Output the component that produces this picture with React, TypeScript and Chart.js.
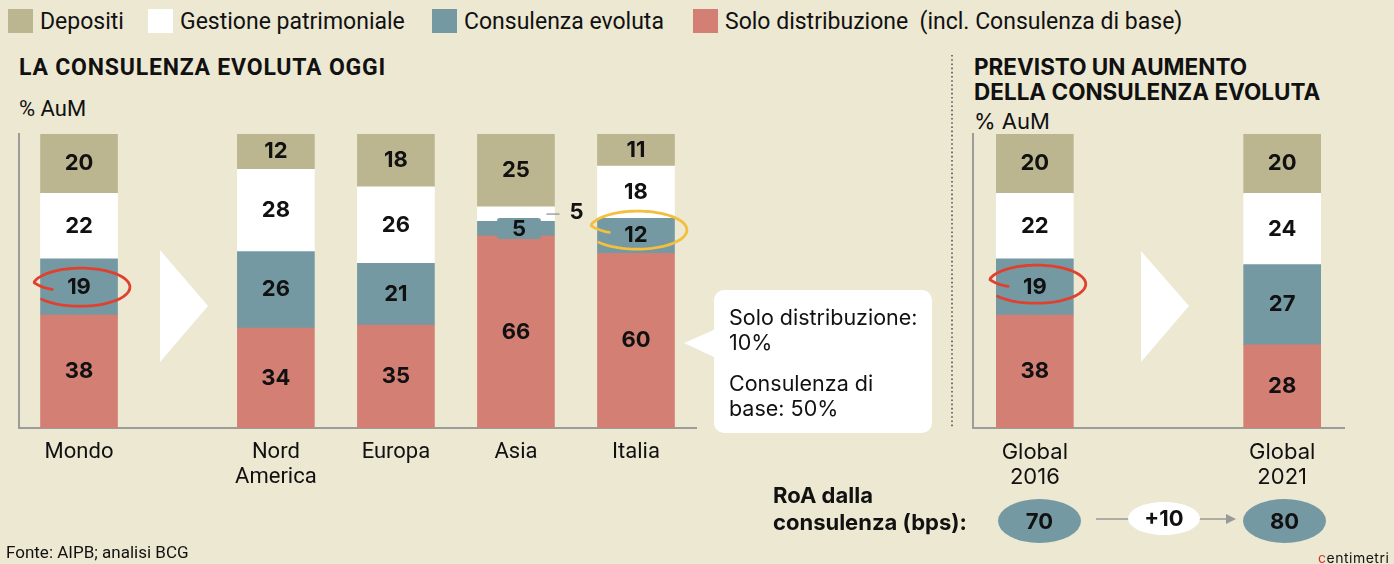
import React, { useEffect, useRef } from "react";
import { Chart, registerables } from "chart.js";
Chart.register(...registerables);

// ---------- DATA ----------
const seriesNames = ["Depositi", "Gestione patrimoniale", "Consulenza evoluta", "Solo distribuzione"];

const regionCategories = [["Mondo"], ["Nord", "America"], ["Europa"], ["Asia"], ["Italia"]];
const regionDepositi = [20, 12, 18, 25, 11];
const regionGestione = [22, 28, 26, 5, 18];
const regionConsulenza = [19, 26, 21, 5, 12];
const regionSolo = [38, 34, 35, 66, 60];

const forecastCategories = [["Global", "2016"], ["Global", "2021"]];
const forecastDepositi = [20, 20];
const forecastGestione = [22, 24];
const forecastConsulenza = [19, 27];
const forecastSolo = [38, 28];

const roaValues = [70, 80];

// ---------- STYLE ----------
const BG = "#ece8d2";
const COLORS = {
  depositi: "#bbb590",
  gestione: "#ffffff",
  consulenza: "#7499a3",
  solo: "#d37f74",
};
const AXIS = "#9c9c9c";
const TEXT = "#111111";

type Special = { series: string; index: number; kind: "outside" | "boxed" };
type Highlight = { series: string; index: number; color: string; dy: number };

const labelPlugin = {
  id: "barLabels",
  afterDatasetsDraw(chart: any) {
    const cfg = chart.options.plugins.barLabels || {};
    const specials: Special[] = cfg.specials || [];
    const highlights: Highlight[] = cfg.highlights || [];
    const ctx = chart.ctx;
    ctx.save();
    const centers: Record<string, { x: number; y: number; w: number }[]> = {};
    chart.data.datasets.forEach((ds: any, di: number) => {
      const meta = chart.getDatasetMeta(di);
      centers[ds.key] = [];
      meta.data.forEach((el: any, j: number) => {
        const p = el.getProps(["x", "y", "base", "width"], true);
        const cy = (p.y + p.base) / 2;
        centers[ds.key].push({ x: p.x, y: cy, w: p.width });
        const text = String(ds.raw[j]);
        const sp = specials.find((s) => s.series === ds.key && s.index === j);
        ctx.font = "700 22px Inter";
        ctx.textAlign = "center";
        ctx.textBaseline = "middle";
        if (sp && sp.kind === "outside") {
          const right = p.x + p.width / 2;
          ctx.strokeStyle = "#8a8a8a";
          ctx.lineWidth = 1.2;
          ctx.beginPath();
          ctx.moveTo(right - 8, cy);
          ctx.lineTo(right + 5, cy);
          ctx.stroke();
          ctx.fillStyle = TEXT;
          ctx.fillText(text, right + 22, cy - 2);
          return;
        }
        if (sp && sp.kind === "boxed") {
          ctx.fillStyle = ds.backgroundColor;
          const bw = 44, bh = 21;
          ctx.beginPath();
          (ctx as any).roundRect(p.x + 3 - bw / 2, cy - bh / 2, bw, bh, 3);
          ctx.fill();
          ctx.fillStyle = TEXT;
          ctx.fillText(text, p.x + 3, cy + 1);
          return;
        }
        ctx.fillStyle = TEXT;
        ctx.fillText(text, p.x, cy);
      });
    });
    // hand-drawn ellipses
    highlights.forEach((h) => {
      const c = centers[h.series] && centers[h.series][h.index];
      if (!c) return;
      const cx = c.x + 1.5, cy = c.y + h.dy;
      const rx = 48, ry = 18.5;
      ctx.strokeStyle = h.color;
      ctx.lineWidth = 2.8;
      ctx.lineCap = "round";
      ctx.beginPath();
      const a0 = Math.PI * 0.93, a1 = Math.PI * 2.78;
      const N = 90;
      for (let k = 0; k <= N; k++) {
        const t = k / N;
        const a = a0 + t * (a1 - a0);
        const s = t < 0.08 ? 0.6 + 0.4 * (t / 0.08) : 1 + 0.05 * t;
        const x = cx + rx * s * Math.cos(a);
        const y = cy + ry * s * Math.sin(a);
        if (k === 0) ctx.moveTo(x, y);
        else ctx.lineTo(x, y);
      }
      ctx.stroke();
    });
    ctx.restore();
  },
};

type PanelProps = {
  categories: string[][];
  depositi: number[];
  gestione: number[];
  consulenza: number[];
  solo: number[];
  positions: number[];
  xMin: number;
  xMax: number;
  padding: { left: number; right: number; top: number; bottom: number };
  tickFamily: string;
  tickSize: number;
  specials: Special[];
  highlights: Highlight[];
  width: number;
  height: number;
  style: React.CSSProperties;
};

function StackPanel(props: PanelProps) {
  const ref = useRef<HTMLCanvasElement | null>(null);
  useEffect(() => {
    if (!ref.current) return;
    const totals = props.solo.map(
      (_, j) => props.solo[j] + props.consulenza[j] + props.gestione[j] + props.depositi[j]
    );
    const mk = (key: string, label: string, values: number[], color: string) => ({
      key,
      label,
      raw: values,
      data: values.map((v, j) => ({ x: props.positions[j], y: (v / totals[j]) * 100 })),
      backgroundColor: color,
      borderWidth: 0,
      barThickness: 77,
      stack: "s",
    });
    const chart = new Chart(ref.current, {
      type: "bar",
      data: {
        datasets: [
          mk("solo", seriesNames[3], props.solo, COLORS.solo),
          mk("consulenza", seriesNames[2], props.consulenza, COLORS.consulenza),
          mk("gestione", seriesNames[1], props.gestione, COLORS.gestione),
          mk("depositi", seriesNames[0], props.depositi, COLORS.depositi),
        ] as any,
      },
      options: {
        animation: false,
        responsive: false,
        maintainAspectRatio: false,
        layout: { padding: props.padding },
        plugins: {
          legend: { display: false },
          tooltip: { enabled: false },
          barLabels: { specials: props.specials, highlights: props.highlights },
        } as any,
        scales: {
          x: {
            type: "linear",
            stacked: true,
            offset: false,
            min: props.xMin,
            max: props.xMax,
            grid: { display: false, drawTicks: false, offset: false },
            border: { display: true, color: AXIS, width: 2 },
            afterBuildTicks: (scale: any) => {
              scale.ticks = props.positions.map((v) => ({ value: v }));
            },
            afterFit: (scale: any) => {
              scale.height = 72;
            },
            ticks: {
              autoSkip: false,
              maxRotation: 0,
              padding: 12,
              color: TEXT,
              font: { family: props.tickFamily, size: props.tickSize, lineHeight: "25px" } as any,
              callback: (_v: any, i: number) => props.categories[i],
            },
          },
          y: {
            stacked: true,
            min: 0,
            max: 100,
            grid: { display: false, drawTicks: false },
            border: { display: true, color: AXIS, width: 2 },
            ticks: { display: false },
            afterFit: (scale: any) => {
              scale.width = 0;
            },
          },
        },
      } as any,
      plugins: [labelPlugin],
    });
    return () => chart.destroy();
  }, []);
  return (
    <div style={{ position: "absolute", width: props.width, height: props.height, ...props.style }}>
      <canvas ref={ref} width={props.width} height={props.height} style={{ width: props.width, height: props.height }} />
    </div>
  );
}

const abs = (o: React.CSSProperties): React.CSSProperties => ({ position: "absolute", whiteSpace: "nowrap", ...o });

export default function App() {
  const regionPositions = regionCategories.map((_, i) => i + (i > 0 ? 0.64 : 0));
  const forecastPositions = forecastCategories.map((_, i) => i * 2);
  const legendColors = [COLORS.depositi, COLORS.gestione, COLORS.consulenza, COLORS.solo];
  const legendBoxX = [8, 148, 432, 693];
  const legendText = [seriesNames[0], seriesNames[1], seriesNames[2], seriesNames[3] + "\u00a0\u00a0(incl. Consulenza di base)"];
  const roaX = [1039.5, 1284.5];

  return (
    <div
      style={{
        position: "fixed",
        left: 0,
        top: 0,
        width: 1394,
        height: 564,
        background: BG,
        overflow: "hidden",
        color: TEXT,
        fontFamily: "Roboto, sans-serif",
      }}
    >
      {/* legend */}
      {legendText.map((t, i) => (
        <React.Fragment key={i}>
          <div style={abs({ left: legendBoxX[i], top: 9, width: 25, height: 24, background: legendColors[i] })} />
          <div style={abs({ left: legendBoxX[i] + 32, top: 8, fontSize: 23, lineHeight: "28px", fontFamily: "Roboto" })}>{t}</div>
        </React.Fragment>
      ))}

      {/* left titles */}
      <div style={abs({ left: 19, top: 54, fontSize: 23, lineHeight: "28px", fontWeight: 700, letterSpacing: 0.8, fontFamily: "Roboto" })}>
        LA CONSULENZA EVOLUTA OGGI
      </div>
      <div style={abs({ left: 19, top: 95, fontSize: 22, lineHeight: "28px", fontFamily: "Roboto" })}>% AuM</div>

      {/* right titles */}
      <div style={abs({ left: 974, top: 54, fontSize: 22.5, lineHeight: "25px", fontWeight: 700, fontFamily: "Inter" })}>
        PREVISTO UN AUMENTO
        <br />
        DELLA CONSULENZA EVOLUTA
      </div>
      <div style={abs({ left: 974, top: 108, fontSize: 22, lineHeight: "26px", fontFamily: "Inter" })}>% AuM</div>

      <StackPanel
        categories={regionCategories}
        depositi={regionDepositi}
        gestione={regionGestione}
        consulenza={regionConsulenza}
        solo={regionSolo}
        positions={regionPositions}
        xMin={-0.5}
        xMax={5.14}
        padding={{ left: 19, right: 4, top: 34, bottom: 0 }}
        tickFamily="Roboto"
        tickSize={22}
        specials={[
          { series: "gestione", index: 3, kind: "outside" },
          { series: "consulenza", index: 3, kind: "boxed" },
        ]}
        highlights={[
          { series: "consulenza", index: 0, color: "#e0402e", dy: 0 },
          { series: "consulenza", index: 4, color: "#f3bf3c", dy: -6 },
        ]}
        width={700}
        height={400}
        style={{ left: 0, top: 100 }}
      />

      <StackPanel
        categories={forecastCategories}
        depositi={forecastDepositi}
        gestione={forecastGestione}
        consulenza={forecastConsulenza}
        solo={forecastSolo}
        positions={forecastPositions}
        xMin={-0.5}
        xMax={2.5}
        padding={{ left: 33, right: 16, top: 34, bottom: 0 }}
        tickFamily="Inter"
        tickSize={22}
        specials={[]}
        highlights={[{ series: "consulenza", index: 0, color: "#e0402e", dy: -3 }]}
        width={420}
        height={400}
        style={{ left: 940, top: 100 }}
      />

      {/* decorations */}
      <svg width={1394} height={564} style={{ position: "absolute", left: 0, top: 0, pointerEvents: "none" }}>
        <polygon points="160,250 208,306 160,362" fill="#ffffff" />
        <polygon points="1141,251 1189,306 1141,362" fill="#ffffff" />
        <line x1={952} y1={55} x2={952} y2={428} stroke="#555" strokeWidth={1.6} strokeDasharray="1.6 2.6" />
        {/* callout */}
        <rect x={714} y={290} width={218} height={143} rx={10} fill="#ffffff" />
        <polygon points="684,343 716,329 716,358" fill="#ffffff" />
        {/* RoA */}
        <line x1={1096} y1={519} x2={1130} y2={519} stroke="#999" strokeWidth={1.5} />
        <line x1={1198} y1={519} x2={1232} y2={519} stroke="#999" strokeWidth={1.5} />
        <polygon points="1236,519 1226,514 1226,524" fill="#999" />
        {roaX.map((x, i) => (
          <ellipse key={i} cx={x} cy={521} rx={41.5} ry={22} fill={COLORS.consulenza} />
        ))}
        <ellipse cx={1164} cy={518.5} rx={36} ry={16.5} fill="#ffffff" />
      </svg>

      {/* callout text */}
      <div style={abs({ left: 729, top: 305, fontSize: 21.5, lineHeight: "25px", fontFamily: "Inter" })}>
        Solo distribuzione:
        <br />
        10%
      </div>
      <div style={abs({ left: 729, top: 371, fontSize: 21.5, lineHeight: "25px", fontFamily: "Inter" })}>
        Consulenza di
        <br />
        base: 50%
      </div>

      {/* RoA */}
      <div style={abs({ left: 773, top: 482, fontSize: 22, lineHeight: "27px", fontWeight: 700, fontFamily: "Inter" })}>
        RoA dalla
        <br />
        consulenza (bps):
      </div>
      {roaValues.map((v, i) => (
        <div
          key={i}
          style={abs({ left: roaX[i] - 40, width: 80, top: 508, textAlign: "center", fontSize: 22, lineHeight: "26px", fontWeight: 700, fontFamily: "Inter" })}
        >
          {v}
        </div>
      ))}
      <div style={abs({ left: 1124, width: 80, top: 505, textAlign: "center", fontSize: 22, lineHeight: "26px", fontWeight: 700, fontFamily: "Inter" })}>
        {"+" + (roaValues[1] - roaValues[0])}
      </div>

      {/* source */}
      <div style={abs({ left: 6, top: 542, fontSize: 17, lineHeight: "20px", fontFamily: "Roboto" })}>Fonte: AIPB; analisi BCG</div>
      <div style={abs({ left: 1318, top: 550, fontSize: 14, lineHeight: "16px", fontFamily: "Inter", letterSpacing: 0.5 })}>
        <span style={{ color: "#d9312a" }}>c</span>entimetri
      </div>
    </div>
  );
}
